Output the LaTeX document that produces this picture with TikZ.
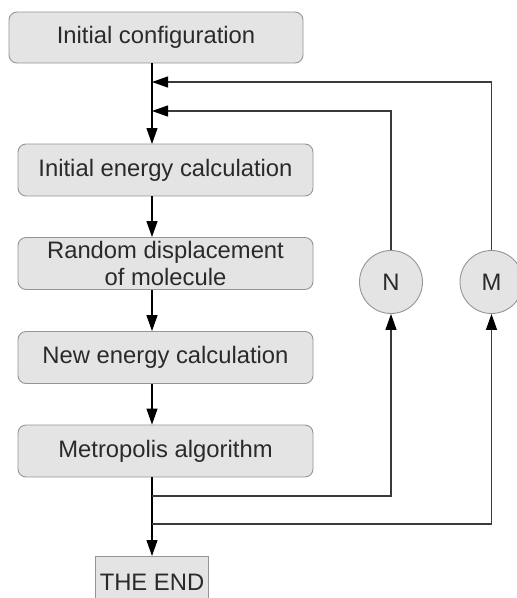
\documentclass[tikz,border=0pt]{standalone}
\usepackage{fontspec}
\setmainfont{Liberation Sans}
\usetikzlibrary{arrows.meta}
\definecolor{txt}{HTML}{2A2A2A}
\definecolor{boxfill}{HTML}{E4E4E4}
\definecolor{boxline}{HTML}{959595}
\definecolor{loopline}{HTML}{3A3A3A}
\begin{document}
\begin{tikzpicture}[x=1pt,y=-1pt,
  every node/.style={font=\fontsize{23.8}{27}\selectfont, text=txt},
  procbox/.style={draw=boxline, fill=boxfill, line width=0.9pt, rounded corners=8pt,
    minimum width=295pt, minimum height=52pt, inner sep=0pt, align=center},
  endbox/.style={draw=boxline, fill=boxfill, line width=0.9pt,
    minimum width=113pt, minimum height=52pt, inner sep=0pt},
  counter/.style={circle, draw=boxline, fill=boxfill, line width=0.9pt,
    minimum size=63pt, inner sep=0pt},
  flow/.style={line width=1.2pt, draw=black, -{Triangle[length=16pt,width=11pt]}},
  loop/.style={line width=1.2pt, draw=loopline, -{Triangle[length=16pt,width=11pt,fill=black,color=black]}}]
\clip (0,0) rectangle (517,598);
\fill[white] (0,0) rectangle (517,598);

\node[procbox, minimum width=294pt, minimum height=51pt] (b0) at (156,37.5) {Initial configuration};
\node[procbox] (b1) at (165.5,170) {Initial energy calculation};
\node[procbox] (b2) at (165.5,263.5) {Random displacement\\of molecule};
\node[procbox] (b3) at (165.5,357.5) {New energy calculation};
\node[procbox] (b4) at (165.5,451) {Metropolis algorithm};
\node[endbox] (end) at (152,582) {THE END};

\node[counter] (n) at (391,282) {N};
\node[counter] (m) at (491.5,282) {M};

\coordinate (top0) at (152,63);
\coordinate (in1) at (152,144);
\coordinate (jm) at (152,82);
\coordinate (jn) at (152,111);
\coordinate (out0) at (152,477);
\coordinate (bn) at (152,496);
\coordinate (bm) at (152,524);
\coordinate (e0) at (152,556);

\draw[flow] (top0) -- (in1);
\draw[flow] (b1.south -| top0) -- (b2.north -| top0);
\draw[flow] (b2.south -| top0) -- (b3.north -| top0);
\draw[flow] (b3.south -| top0) -- (b4.north -| top0);
\draw[flow] (out0) -- (e0);

\draw[loop] (n.north) |- (jn);
\draw[loop] (m.north) |- (jm);
\draw[loop] (bn) -| (n.south);
\draw[loop] (bm) -| (m.south);
\end{tikzpicture}
\end{document}
